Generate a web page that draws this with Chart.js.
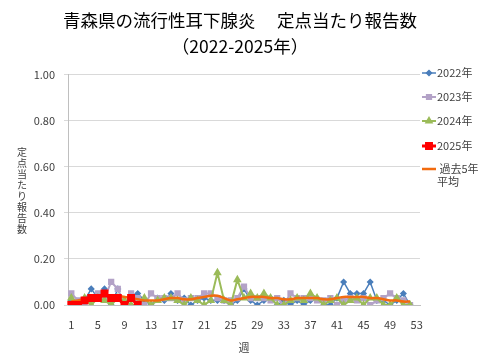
<!DOCTYPE html>
<html>
<head>
<meta charset="utf-8">
<script src="https://cdn.jsdelivr.net/npm/chart.js@4"></script>
<style>
  body { margin: 0; background: #fff; }
</style>
</head>
<body>
<canvas id="mumpsChart" width="480" height="360"></canvas>
<script>
// 週 (x軸カテゴリ)
const weeks = ['1','2','3','4','5','6','7','8','9','10','11','12','13','14','15','16','17','18','19','20',
  '21','22','23','24','25','26','27','28','29','30','31','32','33','34','35','36','37','38','39','40',
  '41','42','43','44','45','46','47','48','49','50','51','52','53'];

const y2022 = [0.02,0.00,0.02,0.07,0.03,0.07,0.00,0.07,0.00,0.03,0.05,0.02,0.00,0.03,0.02,0.05,0.02,0.03,0.00,0.02,
  0.03,0.02,0.02,0.02,0.00,0.02,0.07,0.02,0.00,0.02,0.03,0.00,0.02,0.00,0.02,0.00,0.02,0.03,0.00,0.00,
  0.03,0.10,0.05,0.05,0.05,0.10,0.02,0.02,0.00,0.02,0.05,0.00];
const y2023 = [0.05,0.02,0.00,0.03,0.05,0.03,0.10,0.07,0.00,0.05,0.03,0.00,0.05,0.03,0.03,0.03,0.05,0.02,0.03,0.03,
  0.05,0.05,0.03,0.02,0.02,0.03,0.08,0.03,0.03,0.03,0.02,0.03,0.00,0.05,0.03,0.03,0.03,0.02,0.02,0.03,
  0.00,0.02,0.03,0.02,0.03,0.00,0.02,0.03,0.05,0.03,0.02,0.00];
const y2024 = [0.03,0.00,0.03,0.00,0.03,0.02,0.00,0.03,0.02,0.00,0.00,0.03,0.00,0.02,0.03,0.03,0.02,0.00,0.03,0.02,
  0.00,0.02,0.14,0.02,0.00,0.11,0.03,0.05,0.03,0.05,0.03,0.00,0.00,0.02,0.03,0.02,0.05,0.03,0.00,0.02,
  0.03,0.00,0.02,0.03,0.00,0.03,0.03,0.00,0.00,0.03,0.00,0.00];
const y2025 = [0.00,0.00,0.02,0.03,0.03,0.05,0.03,0.03,0.00,0.03,0.00];
const avg5y = [0.015,0.02,0.025,0.03,0.035,0.04,0.04,0.04,0.035,0.03,0.025,0.02,0.02,0.02,0.025,0.03,0.03,0.025,0.025,0.03,
  0.035,0.04,0.04,0.03,0.02,0.025,0.03,0.035,0.035,0.035,0.03,0.03,0.025,0.025,0.03,0.03,0.03,0.03,0.025,0.025,
  0.03,0.035,0.035,0.035,0.035,0.03,0.03,0.025,0.02,0.02,0.015,0.015];

const yTitle = '定点当たり報告数';
const font = "'Noto Sans CJK JP', 'Noto Sans', sans-serif";
const textColor = '#404040';

// 縦書きのy軸タイトルと右側の凡例
const extras = {
    id: 'extras',
    afterDraw(chart) {
        const ctx = chart.ctx;
        ctx.save();
        ctx.fillStyle = textColor;
        ctx.font = '10px ' + font;
        ctx.textAlign = 'center';
        ctx.textBaseline = 'middle';
        [...yTitle].forEach((ch, i) => ctx.fillText(ch, 22, 152 + i * 11));

        const tops = [73, 97, 121, 146, 169];
        ctx.font = '11px ' + font;
        ctx.textAlign = 'left';
        chart.data.datasets.forEach((ds, i) => {
            const y = tops[i];
            ctx.strokeStyle = ds.borderColor;
            ctx.lineWidth = ds.borderWidth;
            ctx.beginPath();
            ctx.moveTo(422, y);
            ctx.lineTo(436, y);
            ctx.stroke();
            if (ds.pointRadius > 0) {
                ctx.fillStyle = ds.pointBackgroundColor;
                Chart.helpers.drawPoint(ctx, {
                    pointStyle: ds.pointStyle, radius: ds.pointRadius,
                    borderWidth: 1, rotation: 0
                }, 429, y);
            }
            ctx.fillStyle = textColor;
            ds.label.split('\n').forEach((t, j) => ctx.fillText(t, 437, y + j * 13));
        });
        ctx.restore();
    }
};

const ctx = document.getElementById('mumpsChart').getContext('2d');
new Chart(ctx, {
    type: 'line',
    data: {
        labels: weeks,
        datasets: [
            { label: '2022年', data: y2022, borderColor: '#4a7ebb', pointBackgroundColor: '#4a7ebb',
              borderWidth: 1.5, pointStyle: 'rectRot', pointRadius: 2.5, order: 4 },
            { label: '2023年', data: y2023, borderColor: '#b3a2c7', pointBackgroundColor: '#b3a2c7',
              borderWidth: 2, pointStyle: 'rect', pointRadius: 3, order: 3 },
            { label: '2024年', data: y2024, borderColor: '#9bbb59', pointBackgroundColor: '#9bbb59',
              borderWidth: 2, pointStyle: 'triangle', pointRadius: 3, order: 2 },
            { label: '2025年', data: y2025, borderColor: '#ff0000', pointBackgroundColor: '#ff0000',
              borderWidth: 3, pointStyle: 'rect', pointRadius: 3.5, order: 0 },
            { label: ' 過去5年\n平均', data: avg5y, borderColor: '#f26b0f', pointBackgroundColor: '#f26b0f',
              borderWidth: 2.5, pointRadius: 0, tension: 0.4, order: 1 }
        ]
    },
    options: {
        responsive: false,
        animation: false,
        devicePixelRatio: 1,
        layout: { padding: 0 },
        plugins: {
            legend: { display: false },
            tooltip: { enabled: false },
            title: {
                display: true,
                text: ['青森県の流行性耳下腺炎　 定点当たり報告数', '（2022-2025年）'],
                color: '#000',
                font: { family: font, size: 17.5, weight: 'normal', lineHeight: 1.45 },
                padding: { top: 8, bottom: 16 }
            }
        },
        scales: {
            x: {
                offset: true,
                grid: { display: false, drawTicks: false },
                border: { display: true, color: '#bfbfbf' },
                ticks: {
                    autoSkip: false, maxRotation: 0, padding: 13,
                    color: textColor, font: { family: font, size: 11 },
                    callback: (v, i) => i % 4 === 0 ? weeks[i] : ''
                },
                title: {
                    display: true, text: '週', color: textColor,
                    font: { family: font, size: 11 }, padding: { top: 4, bottom: 6 }
                },
                afterFit: s => { s.height = 55; }
            },
            y: {
                min: 0, max: 1,
                grid: { color: '#d9d9d9', tickLength: 4 },
                border: { display: true, color: '#bfbfbf' },
                ticks: {
                    stepSize: 0.2, padding: 9,
                    color: textColor, font: { family: font, size: 11 },
                    callback: v => v.toFixed(2)
                },
                afterFit: s => { s.width = 68; }
            },
            // 凡例用の余白 (右側)
            legendSpace: {
                position: 'right',
                grid: { drawOnChartArea: false, drawTicks: false },
                border: { display: false },
                ticks: { display: false },
                afterFit: s => { s.width = 60; }
            }
        }
    },
    plugins: [extras]
});
</script>
</body>
</html>
